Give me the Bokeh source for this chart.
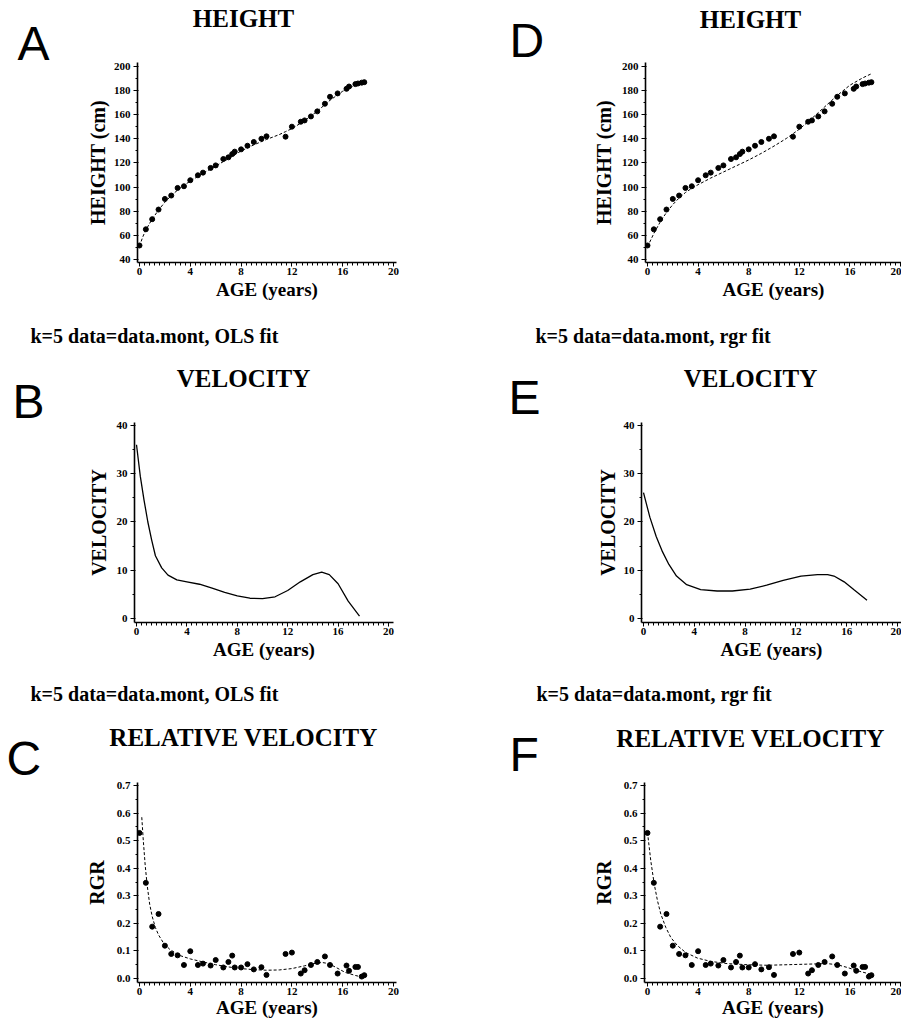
from bokeh.plotting import figure
from bokeh.layouts import column, row
from bokeh.models import Label, Range1d, SingleIntervalTicker, NumeralTickFormatter
from bokeh.embed import file_html
from bokeh.resources import INLINE

# ---------------- data ----------------
age = [0, 0.5, 1, 1.5, 2, 2.5, 3, 3.5, 4, 4.6, 5, 5.6, 6, 6.6, 7, 7.3, 7.5, 8, 8.5, 9, 9.6, 10,
       11.5, 12, 12.7, 13, 13.5, 14, 14.6, 15, 15.6, 16.3, 16.5, 17, 17.2, 17.5, 17.7]
height_cm = [51.6, 65.0, 73.4, 81.4, 90.2, 93.0, 99.3, 100.7, 105.7, 109.8, 112.0, 115.9, 118.0,
             123.3, 124.7, 127.4, 129.4, 131.3, 134.3, 137.4, 140.1, 142.1,
             141.8, 150.1, 154.2, 155.3, 158.6, 162.8, 169.1, 174.9, 177.7, 181.5, 183.4,
             185.4, 185.9, 186.6, 187.0]
rgr = [0.528, 0.347, 0.188, 0.234, 0.119, 0.089, 0.084, 0.049, 0.099, 0.049, 0.054, 0.047,
       0.067, 0.040, 0.060, 0.083, 0.040, 0.040, 0.052, 0.033, 0.041, 0.013,
       0.089, 0.094, 0.018, 0.030, 0.049, 0.060, 0.080, 0.049, 0.018, 0.047, 0.028,
       0.042, 0.042, 0.007, 0.012]

# OLS fit of height (panel A)
fitA_age = [0, 0.25, 0.5, 1, 1.5, 2, 2.5, 3, 3.5, 4, 5, 6, 7, 8, 9, 10, 11, 11.5, 12, 13, 14,
            15, 16, 17, 17.7]
fitA_h = [51, 58.5, 64.5, 73.5, 81, 87.5, 93, 97.5, 101.5, 105, 111.5, 117.5, 123.5, 130,
          135, 139.5, 143.5, 146, 148.5, 155, 163, 172, 179.5, 184.5, 187]

# rgr fit of height (panel D)
fitD_age = [0, 0.5, 1, 1.5, 2, 2.5, 3, 3.5, 4, 5, 6, 7, 8, 9, 10, 11, 12, 13, 14, 15, 16,
            17, 17.7]
fitD_h = [50.5, 61.5, 71, 79, 85.5, 91, 95.5, 99, 102, 107.5, 112.5, 117.5, 122.5, 128, 134,
          140.5, 148, 157, 166.5, 176, 184.5, 190.5, 194]

# velocity, OLS fit (panel B)
velB_age = [0, 0.3, 0.6, 0.9, 1.2, 1.5, 2, 2.5, 3.2, 4, 5, 6, 7, 8, 9, 10, 11, 12, 13, 14,
            14.7, 15.3, 16, 16.8, 17.7]
velB = [36, 29.5, 24.5, 20, 16.3, 13, 10.5, 9, 8, 7.6, 7.1, 6.3, 5.4, 4.7, 4.2, 4.1, 4.5, 5.8,
        7.6, 9.1, 9.6, 9.1, 7.2, 3.6, 0.5]

# velocity, rgr fit (panel E)
velE_age = [0, 0.5, 1, 1.5, 2, 2.6, 3.4, 4.5, 5.8, 7, 8.4, 9.7, 11, 12.4, 13.7, 14.5, 15,
            15.8, 16.6, 17.6]
velE = [26.1, 21, 17, 13.8, 11.2, 8.8, 7.0, 6.0, 5.7, 5.7, 6.1, 6.9, 7.9, 8.8, 9.1, 9.1, 8.8,
        7.6, 5.9, 3.8]

# relative velocity, OLS fit (panel C)
fitC_age = [0.18, 0.3, 0.45, 0.6, 0.8, 1.0, 1.25, 1.5, 1.9, 2.4, 3.2, 4, 5, 6, 7, 8, 9, 10,
            11, 12, 13, 13.9, 14.4, 14.9, 15.4, 16.2, 17, 17.45, 17.67]
fitC = [0.585, 0.50, 0.41, 0.34, 0.27, 0.225, 0.185, 0.158, 0.128, 0.105, 0.083, 0.071, 0.060,
        0.050, 0.042, 0.036, 0.032, 0.030, 0.031, 0.036, 0.046, 0.056, 0.058, 0.054, 0.042,
        0.022, 0.011, 0.006, 0.009]

# relative velocity, rgr fit (panel F)
fitF_age = [0, 0.26, 0.53, 0.79, 1.05, 1.45, 1.84, 2.37, 3.03, 3.95, 5.0, 6.3, 7.9, 9.47,
            11.05, 12.6, 14.2, 15.0, 15.8, 16.6, 17.6]
fitF = [0.530, 0.427, 0.343, 0.282, 0.234, 0.185, 0.149, 0.119, 0.094, 0.074, 0.062, 0.054,
        0.050, 0.048, 0.050, 0.052, 0.054, 0.050, 0.040, 0.028, 0.016]

x_label = "AGE (years)"
titles = ["HEIGHT", "VELOCITY", "RELATIVE VELOCITY"]
y_labels = ["HEIGHT (cm)", "VELOCITY", "RGR"]
letters = ["A", "B", "C", "D", "E", "F"]
caption_ols = "k=5 data=data.mont, OLS fit"
caption_rgr = "k=5 data=data.mont, rgr fit"

SERIF = "Liberation Serif"
SANS = "Liberation Sans"
TOTAL_W = 901
LETTER_W = 60
LEFT_X = 0
RIGHT_X = 508
PLOT_L_W = RIGHT_X - LETTER_W            # 448
PLOT_R_W = TOTAL_W - RIGHT_X - LETTER_W  # 333
# measured shift between the anchor and the drawn baseline, per text kind
SHIFT_TITLE = 9
SHIFT_CAPTION = 8
SHIFT_LETTER = 18


def panel(w, h, bl, bt, bb, br, xr, yr, yint, ylabel, ylab_standoff, xlab_standoff, fmt=None):
    p = figure(width=w, height=h, x_range=Range1d(*xr), y_range=Range1d(*yr),
               output_backend="svg", toolbar_location=None,
               min_border_left=bl, min_border_top=bt, min_border_bottom=bb,
               min_border_right=br)
    p.outline_line_color = None
    p.xgrid.visible = False
    p.ygrid.visible = False
    p.background_fill_color = "white"
    p.border_fill_color = "white"
    p.xaxis.ticker = SingleIntervalTicker(interval=4, num_minor_ticks=10)
    p.yaxis.ticker = SingleIntervalTicker(interval=yint, num_minor_ticks=2)
    if fmt:
        p.yaxis.formatter = NumeralTickFormatter(format=fmt)
    for ax in (p.xaxis[0], p.yaxis[0]):
        ax.axis_line_width = 1.6
        ax.axis_line_color = "black"
        ax.major_tick_line_color = "black"
        ax.minor_tick_line_color = "black"
        ax.major_label_text_font = SERIF
        ax.major_label_text_font_style = "bold"
        ax.major_label_text_font_size = "11px"
        ax.major_label_text_color = "black"
        ax.axis_label_text_font = SERIF
        ax.axis_label_text_font_style = "bold"
        ax.axis_label_text_color = "black"
    p.xaxis.major_tick_in = 0
    p.xaxis.major_tick_out = 4
    p.xaxis.minor_tick_in = 0
    p.xaxis.minor_tick_out = 3
    p.xaxis.major_label_standoff = 1
    p.xaxis.axis_label = x_label
    p.xaxis.axis_label_text_font_size = "19px"
    p.xaxis.axis_label_standoff = xlab_standoff
    p.yaxis.major_tick_in = 1
    p.yaxis.major_tick_out = 4
    p.yaxis.minor_tick_in = 0
    p.yaxis.minor_tick_out = 2
    p.yaxis.major_label_standoff = 3
    p.yaxis.axis_label = ylabel
    p.yaxis.axis_label_text_font_size = "20px"
    p.yaxis.axis_label_standoff = ylab_standoff
    return p


def strip(left, width, top, height):
    # a text strip whose data coordinates equal page pixels
    h = figure(width=width, height=height, x_range=Range1d(left, left + width),
               y_range=Range1d(top + height, top), x_axis_type=None, y_axis_type=None,
               output_backend="svg", toolbar_location=None, min_border=0)
    h.outline_line_color = None
    h.background_fill_color = "white"
    h.border_fill_color = "white"
    return h


def add_text(p, px, py, text, font, size, style="normal", align="left"):
    p.add_layout(Label(x=px, y=py, text=text, text_font=font, text_font_size=size,
                       text_font_style=style, text_align=align,
                       text_baseline="alphabetic", text_color="black"))


def title_text(p, cx, base, text):
    add_text(p, cx, base - SHIFT_TITLE, text, SERIF, "25px", "bold", "center")


def caption_text(p, left, base, text):
    add_text(p, left, base - SHIFT_CAPTION, text, SERIF, "20px", "bold")


def letter_text(p, left, base, text):
    add_text(p, left, base - SHIFT_LETTER, text, SANS, "48px")


def block(top, head_h, plot_l, plot_r, title, base_l, base_r, letter_l, letter_r,
          lbase_l, lbase_r, lx_l, lx_r):
    blk_h = head_h + plot_l.height
    lf_l = strip(LEFT_X, LETTER_W, top, blk_h)
    letter_text(lf_l, lx_l, lbase_l, letter_l)
    hd_l = strip(LETTER_W, PLOT_L_W, top, head_h)
    title_text(hd_l, 243, base_l, title)
    lf_r = strip(RIGHT_X, LETTER_W, top, blk_h)
    letter_text(lf_r, lx_r, lbase_r, letter_r)
    hd_r = strip(RIGHT_X + LETTER_W, PLOT_R_W, top, head_h)
    title_text(hd_r, 750, base_r, title)
    # header and plot are wrapped separately so their borders are not aligned
    return row(lf_l, column(row(hd_l), row(plot_l)), lf_r, column(row(hd_r), row(plot_r)))


# ---------------- row 1: height (plots page y 60..302, frame 62..262) ----------------
pA = panel(PLOT_L_W, 242, 77, 2, 40, 112, (-0.157, 20.236), (37.48, 203.32), 20,
           y_labels[0], 2, 1)
pA.line(fitA_age, fitA_h, line_dash="3 2", line_width=1, color="black")
pA.scatter(age, height_cm, size=5, color="black")

pD = panel(PLOT_R_W, 242, 77, 2, 40, 0, (-0.158, 20.079), (37.48, 203.32), 20,
           y_labels[0], 4, 1)
pD.line(fitD_age, fitD_h, line_dash="3 2", line_width=1, color="black")
pD.scatter(age, height_cm, size=5, color="black")

block1 = block(0, 60, pA, pD, titles[0], 27, 28, letters[0], letters[3], 61, 58, 17, 509)

cap1 = strip(0, TOTAL_W, 302, 48)
caption_text(cap1, 30, 343, caption_ols)
caption_text(cap1, 535, 343, caption_rgr)

# ---------------- row 2: velocity (plots page y 420..662, frame 422..622) ----------------
pB = panel(PLOT_L_W, 242, 74, 2, 40, 115, (-0.159, 20.397), (-0.83, 40.62), 10,
           y_labels[1], 4, 1)
pB.line(velB_age, velB, line_width=1.3, color="black")

pE = panel(PLOT_R_W, 242, 73, 2, 40, 0, (-0.157, 20.315), (-0.83, 40.62), 10,
           y_labels[1], 2, 1)
pE.line(velE_age, velE, line_width=1.3, color="black")

block2 = block(350, 70, pB, pE, titles[1], 387, 387, letters[1], letters[4], 419, 415, 12, 508)

cap2 = strip(0, TOTAL_W, 662, 48)
caption_text(cap2, 30, 701, caption_ols)
caption_text(cap2, 536, 701, caption_rgr)

# ---------------- row 3: relative velocity (plots page y 780..1020, frame 782..982) ----------------
pC = panel(PLOT_L_W, 240, 77, 2, 38, 112, (-0.157, 20.236), (-0.0145, 0.7109), 0.1,
           y_labels[2], 6, -1, "0.0")
pC.line(fitC_age, fitC, line_dash="3 2", line_width=1, color="black")
pC.scatter(age, rgr, size=5, color="black")

pF = panel(PLOT_R_W, 240, 76, 2, 38, 0, (-0.237, 20.079), (-0.0145, 0.7109), 0.1,
           y_labels[2], 6, -1, "0.0")
pF.line(fitF_age, fitF, line_dash="3 2", line_width=1, color="black")
pF.scatter(age, rgr, size=5, color="black")

block3 = block(710, 70, pC, pF, titles[2], 746, 747, letters[2], letters[5], 776, 772, 6, 509)

layout = column(block1, cap1, block2, cap2, block3)

open("out.html", "w").write(file_html(layout, INLINE))
